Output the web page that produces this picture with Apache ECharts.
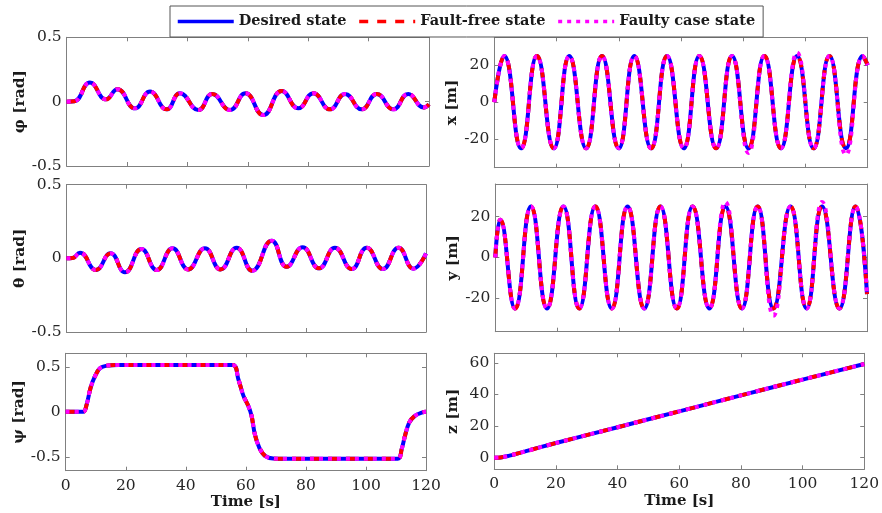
<!DOCTYPE html>
<html><head><meta charset="utf-8">
<script src="https://cdn.jsdelivr.net/npm/echarts@6/dist/echarts.min.js"></script>
<style>html,body{margin:0;padding:0;background:#fff}#c{width:882px;height:513px}</style>
</head><body><div id="c"></div><script>
// ---------- data ----------
const seriesNames = ['Desired state', 'Fault-free state', 'Faulty case state'];
const timeTicks = [0, 20, 40, 60, 80, 100, 120];

// phi [rad]
const tPhi = [0, 2.5, 7.7, 13, 16.8, 22.6, 27.6, 33.1, 37.5, 43.6, 48.2, 54.1, 59.2, 65.1, 71.2, 76.7, 81.7, 87.2, 92.2, 97.7, 102.7, 108.2, 113.1, 118.3, 120];
const phiDesired   = [0, 0.003, 0.148, 0.018, 0.096, -0.052, 0.078, -0.06, 0.065, -0.065, 0.06, -0.065, 0.065, -0.104, 0.083, -0.052, 0.065, -0.06, 0.06, -0.06, 0.06, -0.06, 0.06, -0.045, -0.02];
const phiFaultFree = [0, 0.003, 0.148, 0.018, 0.096, -0.052, 0.078, -0.06, 0.065, -0.065, 0.06, -0.065, 0.065, -0.104, 0.083, -0.052, 0.065, -0.06, 0.06, -0.06, 0.06, -0.06, 0.06, -0.045, -0.02];
const phiFaulty    = [0, 0.003, 0.148, 0.018, 0.096, -0.052, 0.078, -0.06, 0.065, -0.065, 0.06, -0.065, 0.065, -0.104, 0.083, -0.052, 0.065, -0.06, 0.06, -0.06, 0.06, -0.06, 0.06, -0.045, -0.02];

// theta [rad]
const tTheta = [0, 2, 4.5, 9.8, 14.7, 19.5, 25, 30.1, 35.4, 40.6, 46.2, 51.4, 56.8, 62, 68.5, 73.5, 78.8, 84.3, 89.6, 95.2, 100.2, 105.6, 110.8, 115.8, 120];
const thetaDesired   = [0, 0.002, 0.038, -0.079, 0.034, -0.095, 0.063, -0.079, 0.068, -0.075, 0.068, -0.075, 0.072, -0.084, 0.12, -0.057, 0.075, -0.068, 0.072, -0.072, 0.072, -0.072, 0.072, -0.07, 0.034];
const thetaFaultFree = [0, 0.002, 0.038, -0.079, 0.034, -0.095, 0.063, -0.079, 0.068, -0.075, 0.068, -0.075, 0.072, -0.084, 0.12, -0.057, 0.075, -0.068, 0.072, -0.072, 0.072, -0.072, 0.072, -0.07, 0.034];
const thetaFaulty    = [0, 0.002, 0.038, -0.079, 0.034, -0.095, 0.063, -0.079, 0.068, -0.075, 0.068, -0.075, 0.072, -0.084, 0.12, -0.057, 0.075, -0.068, 0.072, -0.072, 0.072, -0.072, 0.072, -0.07, 0.034];

// psi [rad]
const tPsi = [0, 5.8, 7.0, 8.3, 9.8, 11.4, 13.7, 17.5, 55.6, 57.5, 59.2, 60.8, 61.9, 63.0, 64.5, 66.4, 69.1, 72.5, 110.6, 111.9, 113.0, 114.4, 116.3, 118.6, 120];
const psiDesired   = [0, 0, 0.085, 0.27, 0.40, 0.485, 0.515, 0.523, 0.523, 0.363, 0.178, 0.067, -0.044, -0.25, -0.40, -0.49, -0.52, -0.523, -0.523, -0.415, -0.267, -0.119, -0.044, -0.008, 0];
const psiFaultFree = [0, 0, 0.085, 0.27, 0.40, 0.485, 0.515, 0.523, 0.523, 0.363, 0.178, 0.067, -0.044, -0.25, -0.40, -0.49, -0.52, -0.523, -0.523, -0.415, -0.267, -0.119, -0.044, -0.008, 0];
const psiFaulty    = [0, 0, 0.085, 0.27, 0.40, 0.485, 0.515, 0.523, 0.523, 0.363, 0.178, 0.067, -0.044, -0.25, -0.40, -0.49, -0.52, -0.523, -0.523, -0.415, -0.267, -0.119, -0.044, -0.008, 0];

// x [m]
const tX = [0, 3.2, 8.6, 13.7, 19.1, 24.1, 29.5, 34.6, 40, 45, 50.4, 55.5, 60.9, 65.9, 71.3, 76.4, 81.7, 86.8, 92.1, 97.3, 102.6, 107.7, 113, 118.4, 120];
const xDesired   = [0, 25, -25, 25, -25, 25, -25, 25, -25, 25, -25, 25, -25, 25, -25, 25, -25, 25, -25, 25, -25, 25, -25, 25, 20];
const xFaultFree = [0, 25, -25, 25, -25, 25, -25, 25, -25, 25, -25, 25, -25, 25, -25, 25, -25, 25, -25, 25, -25, 25, -25, 25, 20];
const xFaulty    = [0, 25, -25, 25, -25, 25, -25, 25, -25, 25, -25, 25, -25, 25, -25, 25, -27.5, 25, -25, 26.8, -25, 25, -28.5, 25, 20];

// y [m]
const tY = [0, 1.6, 6.4, 11.5, 16.7, 22, 27.1, 32.3, 37.6, 42.7, 48.1, 53.3, 58.6, 63.7, 69.1, 74.3, 79.6, 84.7, 89.8, 95.3, 100.5, 105.5, 111.1, 116.3, 120];
const yDesired   = [0, 18.5, -25, 25, -25, 25, -25, 25, -25, 25, -25, 25, -25, 25, -25, 25, -25, 25, -25, 25, -25, 25, -25, 25, -18];
const yFaultFree = [0, 18.5, -25, 25, -25, 25, -25, 25, -25, 25, -25, 25, -25, 25, -25, 25, -25, 25, -25, 25, -25, 25, -25, 25, -18];
const yFaulty    = [0, 18.5, -25, 25, -25, 25, -25, 25, -25, 25, -25, 25, -25, 25, -25, 27.2, -25, 25, -28.5, 25, -25, 27.2, -25, 25, -18];

// z [m]
const tZ = [0, 2, 4, 6, 10, 20, 40, 60, 80, 100, 120];
const zDesired   = [0, 0.2, 0.9, 1.9, 4.0, 9.3, 19.3, 29.3, 39.4, 49.4, 59.2];
const zFaultFree = [0, 0.2, 0.9, 1.9, 4.0, 9.3, 19.3, 29.3, 39.4, 49.4, 59.2];
const zFaulty    = [0, 0.2, 0.9, 1.9, 4.0, 9.3, 19.3, 29.3, 39.4, 49.4, 59.2];

// tick labels of the y axes
const phiTicks = [-0.5, 0, 0.5];
const thetaTicks = [-0.5, 0, 0.5];
const psiTicks = [-0.5, 0, 0.5];
const xTicks = [-20, 0, 20];
const yTicks = [-20, 0, 20];
const zTicks = [0, 20, 40, 60];

// ---------- layout ----------
const FONT = "'DejaVu Serif', serif";
const AXIS_COLOR = '#808080';
const panels = [
  {name: 'φ [rad]', t: tPhi, v: [phiDesired, phiFaultFree, phiFaulty], min: -0.5, max: 0.5, ticks: phiTicks, smooth: 0.5,
   box: {l: 66.7, r: 429, t: 37.3, b: 166}, gap: 37, bottom: false},
  {name: 'x [m]', t: tX, v: [xDesired, xFaultFree, xFaulty], min: -35.5, max: 35.1, ticks: xTicks, smooth: 0.5,
   box: {l: 494.3, r: 867.7, t: 37.3, b: 167.7}, gap: 33, bottom: false},
  {name: 'θ [rad]', t: tTheta, v: [thetaDesired, thetaFaultFree, thetaFaulty], min: -0.5, max: 0.5, ticks: thetaTicks, smooth: 0.5,
   box: {l: 66.5, r: 426, t: 184.7, b: 332}, gap: 37, bottom: false},
  {name: 'y [m]', t: tY, v: [yDesired, yFaultFree, yFaulty], min: -36.4, max: 36, ticks: yTicks, smooth: 0.5,
   box: {l: 495.3, r: 867, t: 184, b: 331.7}, gap: 34, bottom: false},
  {name: 'ψ [rad]', t: tPsi, v: [psiDesired, psiFaultFree, psiFaulty], min: -0.655, max: 0.652, ticks: psiTicks, smooth: 0.35,
   box: {l: 65.7, r: 426, t: 353.3, b: 470.7}, gap: 37, bottom: true},
  {name: 'z [m]', t: tZ, v: [zDesired, zFaultFree, zFaulty], min: -7.3, max: 66, ticks: zTicks, smooth: 0.3,
   box: {l: 494.3, r: 867.7, t: 353.3, b: 469.3}, gap: 33, bottom: true}
];

const colors = ['#0000ff', '#ff0000', '#ff00ff'];
const lineStyles = [
  {color: colors[0], width: 4, type: 'solid'},
  {color: colors[1], width: 4, type: [9, 9]},
  {color: colors[2], width: 4, type: [4, 5]}
];

const grid = [], xAxis = [], yAxis = [], series = [];
const tickStyle = {show: true, inside: true, length: 4, lineStyle: {color: AXIS_COLOR, width: 1}};
const lineAx = {show: true, onZero: false, lineStyle: {color: AXIS_COLOR, width: 1}};
const labelText = {fontFamily: FONT, fontSize: 15.5, color: '#262626'};

panels.forEach((p, i) => {
  grid.push({left: p.box.l, top: p.box.t, width: p.box.r - p.box.l, height: p.box.b - p.box.t, containLabel: false});
  xAxis.push({
    gridIndex: i, type: 'value', position: 'bottom', min: 0, max: 120,
    axisLine: lineAx, splitLine: {show: false},
    axisTick: Object.assign({}, tickStyle, {customValues: timeTicks}),
    axisLabel: Object.assign({show: p.bottom, margin: 7, customValues: timeTicks}, labelText),
    name: p.bottom ? 'Time [s]' : '', nameLocation: 'middle', nameGap: 21,
    nameTextStyle: {fontFamily: FONT, fontWeight: 'bold', fontSize: 15, color: '#1a1a1a'}
  });
  xAxis.push({
    gridIndex: i, type: 'value', position: 'top', min: 0, max: 120,
    axisLine: lineAx, splitLine: {show: false},
    axisTick: Object.assign({}, tickStyle, {customValues: timeTicks}),
    axisLabel: {show: false}
  });
  yAxis.push({
    gridIndex: i, type: 'value', position: 'left', min: p.min, max: p.max,
    axisLine: lineAx, splitLine: {show: false},
    axisTick: Object.assign({}, tickStyle, {customValues: p.ticks}),
    axisLabel: Object.assign({show: true, margin: 5, customValues: p.ticks}, labelText),
    name: p.name, nameLocation: 'middle', nameGap: p.gap, nameRotate: 90,
    nameTextStyle: {fontFamily: FONT, fontWeight: 'bold', fontSize: 15.5, color: '#1a1a1a'}
  });
  yAxis.push({
    gridIndex: i, type: 'value', position: 'right', min: p.min, max: p.max,
    axisLine: lineAx, splitLine: {show: false},
    axisTick: Object.assign({}, tickStyle, {customValues: p.ticks}),
    axisLabel: {show: false}
  });
  seriesNames.forEach((nm, k) => {
    series.push({
      name: nm, type: 'line', xAxisIndex: 2 * i, yAxisIndex: 2 * i,
      data: p.t.map((tt, j) => [tt, p.v[k][j]]),
      showSymbol: false, symbol: 'none', smooth: p.smooth,
      itemStyle: {color: colors[k]},
      lineStyle: lineStyles[k], z: 2 + k, silent: true, clip: true
    });
  });
});

const chart = echarts.init(document.getElementById('c'), null, {renderer: 'canvas'});
chart.setOption({
  animation: false,
  backgroundColor: '#ffffff',
  legend: {
    data: seriesNames, left: 170, top: 6, orient: 'horizontal',
    itemWidth: 56, itemHeight: 14, itemGap: 11,
    padding: [8, 8, 8, 6], borderColor: '#555', borderWidth: 1, backgroundColor: '#fff',
    textStyle: {fontFamily: FONT, fontWeight: 'bold', fontSize: 14.5, color: '#1a1a1a'},
    itemStyle: {opacity: 0, borderWidth: 0},
    lineStyle: {width: 3.5}, selectedMode: false
  },
  grid, xAxis, yAxis, series
});
</script></body></html>
